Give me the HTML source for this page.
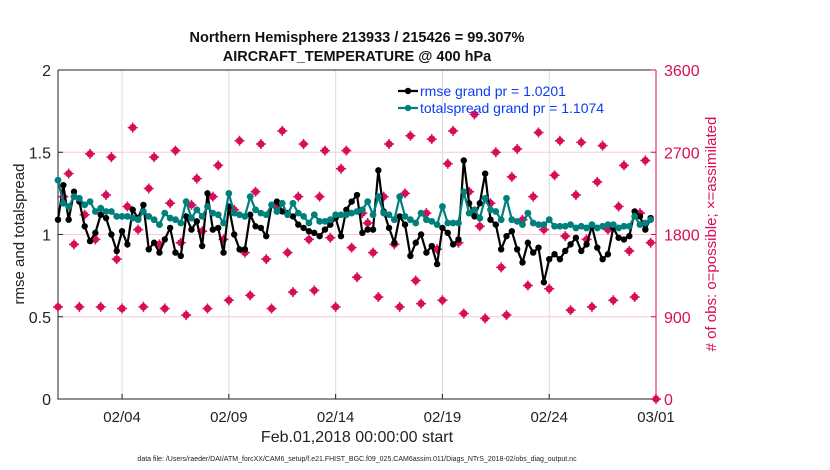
<!DOCTYPE html>
<html><head><meta charset="utf-8"><style>
body{margin:0;background:#fff;}
svg{display:block;font-family:"Liberation Sans",sans-serif;}
</style></head><body>
<svg id="chart" width="830" height="470" viewBox="0 0 830 470" xmlns="http://www.w3.org/2000/svg"></svg>
<script>
const xTickLabels=["02/04","02/09","02/14","02/19","02/24","03/01"];
const xTickDays=[3,8,13,18,23,28];
const yLeftTicks=[0,0.5,1,1.5,2];
const yRightTicks=[0,900,1800,2700,3600];
const rmse=[1.09,1.30,1.09,1.26,1.20,1.05,0.96,1.01,1.12,1.10,1.00,0.90,1.02,0.94,1.15,1.10,1.18,0.91,0.95,0.89,0.97,1.04,0.89,0.87,1.11,1.03,1.08,0.93,1.25,1.03,1.04,0.89,1.17,1.00,0.91,0.91,1.12,1.05,1.04,0.99,1.18,1.20,1.14,1.13,1.11,1.06,1.04,1.02,1.01,0.99,1.03,1.06,1.10,0.99,1.15,1.20,1.24,
1.01,1.03,1.03,1.39,1.14,1.04,0.95,1.11,1.06,0.87,0.95,1.00,0.89,0.93,0.82,1.04,1.01,0.94,0.97,1.45,1.19,1.11,1.19,1.37,1.09,1.06,0.91,0.99,1.02,0.91,0.83,0.95,0.89,0.92,0.71,0.85,0.88,0.85,0.90,0.94,0.98,0.90,0.94,1.05,0.92,0.85,0.88,1.04,0.98,0.97,0.99,1.14,1.11,1.03,1.10];
const spread=[1.33,1.19,1.17,1.23,1.22,1.18,1.20,1.14,1.16,1.14,1.14,1.11,1.11,1.11,1.10,1.09,1.14,1.11,1.09,1.06,1.13,1.10,1.09,1.07,1.20,1.10,1.15,1.11,1.17,1.13,1.12,1.07,1.25,1.13,1.12,1.11,1.23,1.15,1.13,1.12,1.18,1.14,1.19,1.12,1.19,1.13,1.11,1.07,1.12,1.08,1.08,1.09,1.12,1.12,1.12,1.13,1.14,
1.15,1.20,1.12,1.23,1.13,1.12,1.09,1.23,1.11,1.09,1.07,1.13,1.09,1.08,1.06,1.17,1.07,1.07,1.07,1.26,1.13,1.15,1.10,1.22,1.15,1.14,1.09,1.22,1.09,1.08,1.06,1.13,1.07,1.06,1.06,1.09,1.05,1.05,1.05,1.06,1.04,1.05,1.04,1.06,1.04,1.05,1.06,1.06,1.04,1.05,1.05,1.11,1.06,1.07,1.09];
const obsCount=[1008,2214,2466,1692,1008,2016,2682,1746,1008,2232,2646,1530,990,2106,2970,1854,1008,2304,2646,1692,990,2142,2718,1710,918,2124,2412,1836,990,2214,2556,1746,1080,2070,2826,1602,1134,2268,2790,1530,990,2106,2934,1602,1170,2214,2790,1746,1188,2214,2718,1764,1008,2520,2718,1656,1332,
2034,1926,1602,1116,2214,2790,1692,1008,2250,2880,1296,1044,2034,2844,1638,1080,2574,2934,1710,936,2268,3114,1890,882,2142,2700,1440,918,2430,2736,1962,1242,2214,2916,1854,1206,2448,2826,1782,972,2232,2808,1746,1008,2376,2772,1854,1080,2106,2556,1620,1116,2034,2610,1710,0];

const svg=document.getElementById('chart');
const NS="http://www.w3.org/2000/svg";
const L=58,R=656,T=70,B=399,MAG="#d80c5a",TEAL="#00807c";
const xS=d=>L+(R-L)*d/28;
const yL=v=>B-(B-T)*v/2;
const yR=v=>B-(B-T)*v/3600;
function mk(tag,at,parent){const e=document.createElementNS(NS,tag);for(const k in at)e.setAttribute(k,at[k]);(parent||svg).appendChild(e);return e;}
function tx(s,at){const e=mk('text',at);e.textContent=s;return e;}

// grid
yLeftTicks.slice(1,4).forEach(v=>{const g=mk('line',{x1:L,x2:R,y1:yL(v),y2:yL(v),stroke:"#f6cadb","stroke-width":1});

});
xTickDays.forEach(d=>{const g=mk('line',{x1:xS(d),x2:xS(d),y1:T,y2:B,stroke:"#dcdcdc","stroke-width":1});

});

// axes
const ax=mk('path',{d:`M${L},${T}H${R}M${L},${T}V${B}H${R}`,stroke:"#222",fill:"none","stroke-width":1});


const rax=mk('line',{x1:R,x2:R,y1:T,y2:B,stroke:MAG,"stroke-width":1});



yLeftTicks.forEach(v=>{mk('line',{x1:L,x2:L+5,y1:yL(v),y2:yL(v),stroke:"#222"});
const t=tx(String(v),{x:L-7,y:yL(v)+6,"text-anchor":"end","font-size":16,fill:"#222"});

});
yRightTicks.forEach(v=>{mk('line',{x1:R-5,x2:R,y1:yR(v),y2:yR(v),stroke:MAG});
const t=tx(String(v),{x:R+8,y:yR(v)+6,"font-size":16,fill:MAG});

});
xTickDays.forEach((d,i)=>{mk('line',{x1:xS(d),x2:xS(d),y1:B,y2:B-5,stroke:"#222"});
const t=tx(xTickLabels[i],{x:xS(d),y:B+23,"text-anchor":"middle","font-size":15,fill:"#222"});

});

// obs markers
obsCount.forEach((c,i)=>{const x=xS(i*0.25),y=yR(c);
const g=mk('g',{});


mk('circle',{cx:x,cy:y,r:3.6,fill:MAG},g);
mk('path',{d:`M${x-5},${y}H${x+5}M${x},${y-5}V${y+5}`,stroke:MAG,"stroke-width":1.5},g);});

// series
function series(vals,color,name,r){
 const p=mk('polyline',{points:vals.map((v,i)=>xS(i*0.25)+","+yL(v)).join(" "),fill:"none",stroke:color,"stroke-width":2.2});
 
 
 vals.forEach((v,i)=>{const c=mk('circle',{cx:xS(i*0.25),cy:yL(v),r:r,fill:color});
 
 });
}
series(rmse,"#000","rmse",3.2);
series(spread,TEAL,"totalspread",3.4);

// legend
const lg=mk('g',{});


[["rmse grand pr = 1.0201","#000",91],["totalspread grand pr = 1.1074",TEAL,108]].forEach(a=>{
 mk('line',{x1:398,x2:418,y1:a[2],y2:a[2],stroke:a[1],"stroke-width":2.2},lg);
 mk('circle',{cx:408,cy:a[2],r:3.2,fill:a[1]},lg);
 const t=document.createElementNS(NS,'text');t.setAttribute('x',420);t.setAttribute('y',a[2]+5);t.setAttribute('font-size',14);t.setAttribute('fill','#0a3cf5');t.textContent=a[0];lg.appendChild(t);
 
 
});

// titles
let t;
t=tx("Northern Hemisphere 213933 / 215426 = 99.307%",{x:357,y:42,"text-anchor":"middle","font-size":14.5,"font-weight":"bold",fill:"#111"});


t=tx("AIRCRAFT_TEMPERATURE @ 400 hPa",{x:357,y:61,"text-anchor":"middle","font-size":14.5,"font-weight":"bold",fill:"#111"});


t=tx("rmse and totalspread",{x:24,y:234,"text-anchor":"middle","font-size":15,fill:"#222",transform:"rotate(-90 24 234)"});


t=tx("# of obs: o=possible; \u00d7=assimilated",{x:716,y:234,"text-anchor":"middle","font-size":15,fill:MAG,transform:"rotate(-90 716 234)"});


t=tx("Feb.01,2018 00:00:00 start",{x:357,y:442,"text-anchor":"middle","font-size":16,fill:"#222"});


t=tx("data file: /Users/raeder/DAI/ATM_forcXX/CAM6_setup/f.e21.FHIST_BGC.f09_025.CAM6assim.011/Diags_NTrS_2018-02/obs_diag_output.nc",{x:357,y:461,"text-anchor":"middle","font-size":7,fill:"#222"});


</script>
</body></html>
